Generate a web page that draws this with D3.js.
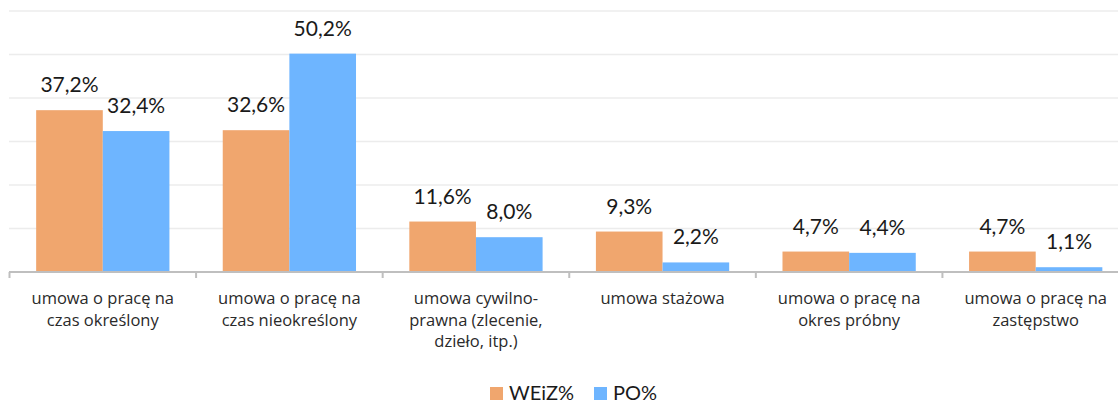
<!DOCTYPE html>
<html><head><meta charset="utf-8">
<script src="https://cdn.jsdelivr.net/npm/d3@7"></script>
<style>
html,body{margin:0;padding:0;background:#fff;}
svg{display:block;}
</style></head>
<body>
<svg id="chart" width="1118" height="403"></svg>
<script>
const categories = [
  "umowa o pracę na\nczas określony",
  "umowa o pracę na\nczas nieokreślony",
  "umowa cywilno-\nprawna (zlecenie,\ndzieło, itp.)",
  "umowa stażowa",
  "umowa o pracę na\nokres próbny",
  "umowa o pracę na\nzastępstwo"
];
const seriesNames = ["WEiZ%", "PO%"];
const weizValues = [37.2, 32.6, 11.6, 9.3, 4.7, 4.7];
const poValues = [32.4, 50.2, 8.0, 2.2, 4.4, 1.1];
const yTicks = [0, 10, 20, 30, 40, 50, 60];
const colors = ["#F0A66E", "#6EB5FF"];

const svg = d3.select("#chart");
const x0 = d3.scaleBand().domain(d3.range(categories.length)).range([9.5, 1129]).paddingInner(0).paddingOuter(0);
const x1 = d3.scaleBand().domain(seriesNames).range([0, x0.bandwidth()]).paddingInner(0).paddingOuter(0.4);
const y = d3.scaleLinear().domain([0, 60]).range([272, 11]);

const data = categories.map((c, i) => ({i, vals: [weizValues[i], poValues[i]]}));

// gridlines
svg.append("g").selectAll("line").data(yTicks.filter(t => t > 0)).join("line")
  .attr("x1", 9).attr("x2", 1118)
  .attr("y1", d => y(d)).attr("y2", d => y(d))
  .attr("stroke", "#ececec").attr("stroke-width", 1.5);

// bars
const groups = svg.append("g").selectAll("g").data(data).join("g")
  .attr("transform", d => `translate(${x0(d.i)},0)`);
groups.selectAll("rect").data(d => d.vals.map((v, k) => ({v, k}))).join("rect")
  .attr("x", d => x1(seriesNames[d.k]))
  .attr("width", x1.bandwidth())
  .attr("y", d => y(d.v))
  .attr("height", d => y(0) - y(d.v))
  .attr("fill", d => colors[d.k]);

groups.selectAll("text").data(d => d.vals.map((v, k) => ({v, k}))).join("text")
  .attr("x", d => x1(seriesNames[d.k]) + x1.bandwidth() / 2)
  .attr("y", d => y(d.v) - 18)
  .attr("text-anchor", "middle")
  .attr("font-family", "Lato, 'Open Sans', sans-serif")
  .attr("font-size", 21)
  .attr("fill", "#1a1a1a")
  .text(d => d.v.toFixed(1).replace(".", ",") + "%");

// axis
const axis = svg.append("g");
axis.append("line").attr("x1", 9).attr("x2", 1118).attr("y1", y(0)).attr("y2", y(0))
  .attr("stroke", "#bfbfbf").attr("stroke-width", 2);
axis.selectAll("line.tick").data(d3.range(categories.length + 1)).join("line")
  .attr("class", "tick")
  .attr("x1", d => d < categories.length ? x0(d) : x0(d - 1) + x0.bandwidth())
  .attr("x2", d => d < categories.length ? x0(d) : x0(d - 1) + x0.bandwidth())
  .attr("y1", y(0)).attr("y2", y(0) + 6)
  .attr("stroke", "#bfbfbf").attr("stroke-width", 2);

// category labels
const labels = svg.append("g").selectAll("text").data(categories).join("text")
  .attr("text-anchor", "middle")
  .attr("font-family", "'Open Sans', sans-serif")
  .attr("font-size", 16.5)
  .attr("fill", "#2a2a2a");
labels.each(function(c, i) {
  const t = d3.select(this);
  c.split("\n").forEach((line, j) => {
    t.append("tspan").attr("x", x0(i) + x0.bandwidth() / 2).attr("y", 304 + j * 21.5).text(line);
  });
});

// legend
const legend = svg.append("g");
const legendX = [490, 594];
seriesNames.forEach((s, k) => {
  legend.append("rect").attr("x", legendX[k]).attr("y", 387).attr("width", 13).attr("height", 13).attr("fill", colors[k]);
  legend.append("text").attr("x", legendX[k] + 19).attr("y", 400)
    .attr("font-family", "Lato, 'Open Sans', sans-serif").attr("font-size", 20).attr("fill", "#1a1a1a").text(s);
});
</script>
</body></html>
